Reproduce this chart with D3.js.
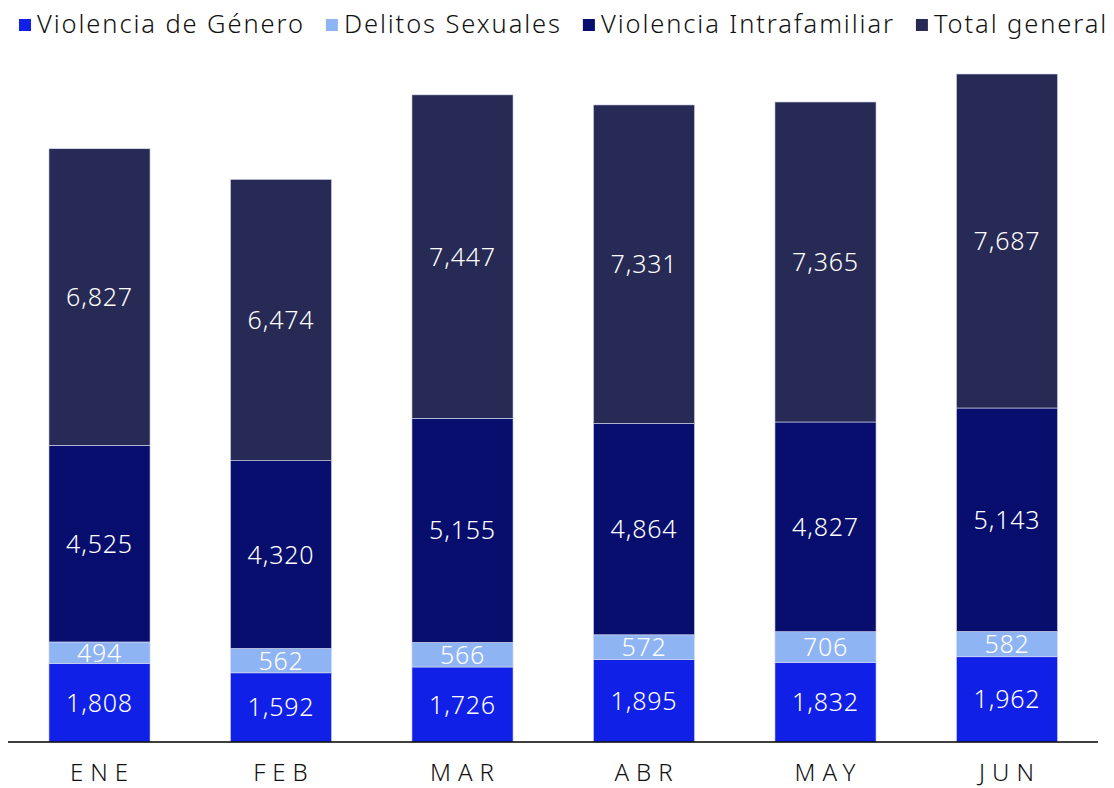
<!DOCTYPE html>
<html>
<head>
<meta charset="utf-8">
<script src="https://cdn.jsdelivr.net/npm/d3@7"></script>
<style>
  body { margin: 0; background: #ffffff; }
  svg text { font-family: "Noto Sans", "DejaVu Sans", sans-serif; font-weight: 300; }
</style>
</head>
<body>
<svg id="chart" width="1114" height="788"></svg>
<script>
// Monthly case counts by category (stacked bottom to top)
const months = ["ENE", "FEB", "MAR", "ABR", "MAY", "JUN"];
const seriesNames = ["Violencia de Género", "Delitos Sexuales", "Violencia Intrafamiliar", "Total general"];
const violenciaGenero = [1808, 1592, 1726, 1895, 1832, 1962];
const delitosSexuales = [494, 562, 566, 572, 706, 582];
const violenciaIntrafamiliar = [4525, 4320, 5155, 4864, 4827, 5143];
const totalGeneral = [6827, 6474, 7447, 7331, 7365, 7687];
const seriesColors = ["#1120e6", "#8fb4f4", "#070e6e", "#262a55"];

const seriesValues = [violenciaGenero, delitosSexuales, violenciaIntrafamiliar, totalGeneral];
const rows = months.map((m, i) => {
  const r = { month: m };
  seriesNames.forEach((s, k) => { r[s] = seriesValues[k][i]; });
  return r;
});

const svg = d3.select("#chart");
const baseline = 742;

const x = d3.scaleBand()
  .domain(months)
  .range([8.75, 1097.75])
  .paddingInner(0.443)
  .paddingOuter(0.2215);

const stack = d3.stack().keys(seriesNames);
const layers = stack(rows);
const maxTotal = d3.max(layers[layers.length - 1], d => d[1]);

const y = d3.scaleLinear()
  .domain([0, maxTotal])
  .range([baseline, 74]);

const color = d3.scaleOrdinal().domain(seriesNames).range(seriesColors);

// Stacked bars
const g = svg.append("g");
const layerG = g.selectAll("g.layer")
  .data(layers)
  .join("g")
  .attr("class", "layer")
  .attr("fill", d => color(d.key));

layerG.selectAll("rect")
  .data(d => d)
  .join("rect")
  .attr("x", d => x(d.data.month))
  .attr("width", x.bandwidth())
  .attr("y", d => y(d[1]))
  .attr("height", d => y(d[0]) - y(d[1]))
  .attr("stroke", "#d9dcef")
  .attr("stroke-width", 0.6);

// Value labels centred in each segment
const fmt = d3.format(",");
layerG.selectAll("text")
  .data(d => d.map(v => ({ v, key: d.key })))
  .join("text")
  .attr("x", d => x(d.v.data.month) + x.bandwidth() / 2)
  .attr("y", d => (y(d.v[0]) + y(d.v[1])) / 2)
  .attr("dy", "0.36em")
  .attr("text-anchor", "middle")
  .attr("fill", "#ffffff")
  .attr("font-size", 25)
  .attr("letter-spacing", 0.8)
  .text(d => fmt(d.v.data[d.key]));

// Category axis
const xAxis = svg.append("g")
  .attr("transform", `translate(0,${baseline})`)
  .call(d3.axisBottom(x).tickSize(0).tickPadding(20));
xAxis.select(".domain")
  .attr("d", `M8,0H1098`)
  .attr("stroke", "#000000")
  .attr("stroke-width", 1.6);
xAxis.selectAll("text")
  .attr("font-size", 24)
  .attr("letter-spacing", 7)
  .attr("fill", "#111111")
  .attr("dy", "0.78em")
  .attr("dx", 3)
  .attr("font-family", "Noto Sans, DejaVu Sans, sans-serif")
  .attr("font-weight", 300);

// Legend along the top
const legend = svg.append("g").attr("transform", "translate(19,0)");
let cursor = 0;
seriesNames.forEach((name, k) => {
  const item = legend.append("g").attr("transform", `translate(${cursor},0)`);
  item.append("rect")
    .attr("x", 0).attr("y", 19)
    .attr("width", 12).attr("height", 12)
    .attr("fill", seriesColors[k]);
  const t = item.append("text")
    .attr("x", 18).attr("y", 33)
    .attr("font-size", 25.5)
    .attr("letter-spacing", 1.9)
    .attr("fill", "#111111")
    .text(name);
  cursor += 18 + t.node().getComputedTextLength() + 21;
});
</script>
</body>
</html>
